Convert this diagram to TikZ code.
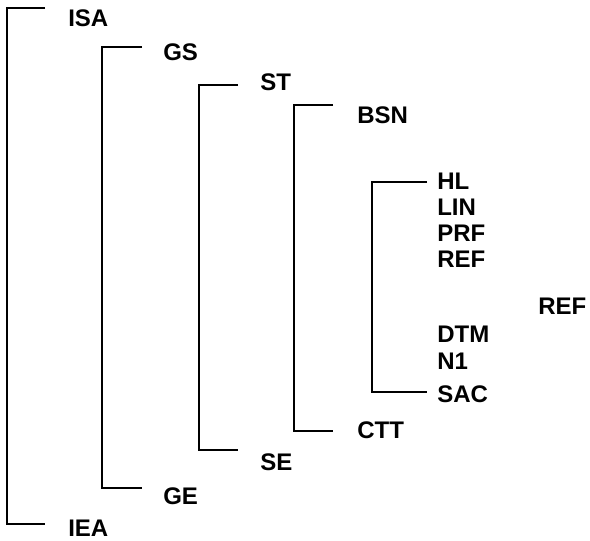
\documentclass[tikz,border=0pt]{standalone}
\usepackage{fontspec}
\setmainfont{Liberation Sans}
\usepackage{tikz}
\usetikzlibrary{positioning}
\begin{document}
\begin{tikzpicture}[x=0.75pt, y=-0.75pt, font=\fontsize{18}{21}\selectfont\bfseries, lb/.style={anchor=west, inner sep=0pt}, br/.style={line width=1.5pt, black}]
\useasboundingbox (0,0) rectangle (590,541);
\node[lb] (isa) at (68,18) {ISA};
\node[lb] (gs) at (163,52) {GS};
\node[lb] (st) at (260,82) {ST};
\node[lb] (bsn) at (357,115) {BSN};
\node[lb] (hl) at (437,181) {HL};
\node[lb] (lin) at (437,207) {LIN};
\node[lb] (prf) at (437,233) {PRF};
\node[lb] (refa) at (437,259) {REF};
\node[lb] (refb) at (538,306) {REF};
\node[lb] (dtm) at (437,334) {DTM};
\node[lb] (n1) at (437,361) {N1};
\node[lb] (sac) at (437,394) {SAC};
\node[lb] (ctt) at (357,430) {CTT};
\node[lb] (se) at (260,462) {SE};
\node[lb] (ge) at (163,496) {GE};
\node[lb] (iea) at (68,528) {IEA};
\coordinate (e1t) at (45,8); \coordinate (e1b) at (45,524);
\coordinate (e2t) at (142,47); \coordinate (e2b) at (142,488);
\coordinate (e3t) at (238,85); \coordinate (e3b) at (238,450);
\coordinate (e4t) at (333,105); \coordinate (e4b) at (333,431);
\coordinate (e5t) at (427,182); \coordinate (e5b) at (427,392);
\draw[br] (e1t) -- ++(-38,0) |- (e1b); \draw[br] (e2t) -- ++(-40,0) |- (e2b); \draw[br] (e3t) -- ++(-39,0) |- (e3b);
\draw[br] (e4t) -- ++(-39,0) |- (e4b); \draw[br] (e5t) -- ++(-55,0) |- (e5b);
\end{tikzpicture}
\end{document}
